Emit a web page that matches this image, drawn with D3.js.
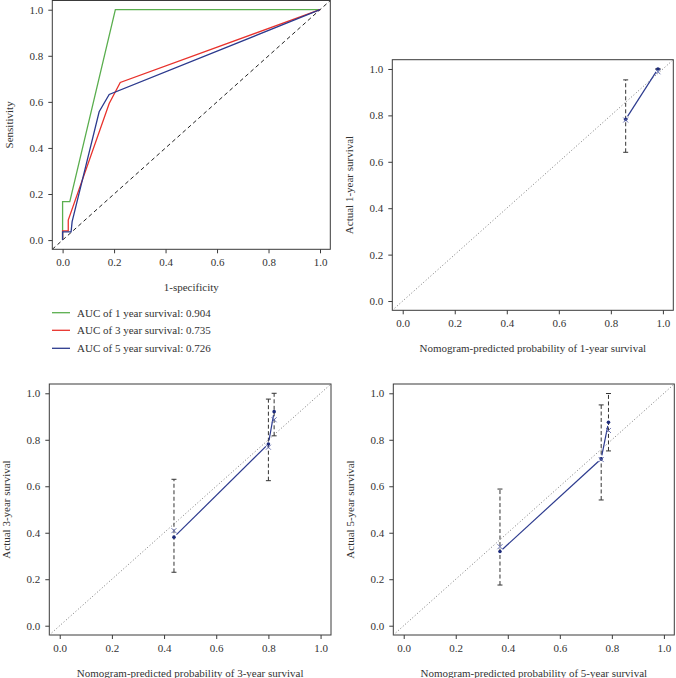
<!DOCTYPE html>
<html><head><meta charset="utf-8">
<script src="https://cdn.jsdelivr.net/npm/d3@7"></script>
<style>
body{margin:0;background:#fff;}
svg{display:block;font-family:"Liberation Serif","DejaVu Serif",serif;}
</style></head>
<body><svg id="chart" width="676" height="678"></svg>
<script>
// ---------- data ----------
const ticks = [0, 0.2, 0.4, 0.6, 0.8, 1.0];

// ROC curves (1-specificity, sensitivity)
const roc1Fpr = [0, 0, 0.028, 0.205, 1];
const roc1Tpr = [0, 0.167, 0.167, 1, 1];
const roc3Fpr = [0, 0, 0.022, 0.022, 0.181, 0.224, 1];
const roc3Tpr = [0, 0.04, 0.04, 0.087, 0.593, 0.684, 1];
const roc5Fpr = [0, 0, 0.033, 0.037, 0.142, 0.181, 1];
const roc5Tpr = [0, 0.036, 0.036, 0.08, 0.557, 0.632, 1];
const legendLabels = ["AUC of 1 year survival: 0.904", "AUC of 3 year survival: 0.735", "AUC of 5 year survival: 0.726"];

// Calibration: predicted, observed, bias-corrected, lower, upper
const cal1Pred = [0.857, 0.981];
const cal1Obs  = [0.783, 1.0];
const cal1Corr = [0.78, 0.988];
const cal1Lo   = [0.641, 1.0];
const cal1Hi   = [0.953, 1.0];

const cal3Pred = [0.438, 0.800, 0.822];
const cal3Obs  = [0.381, 0.782, 0.921];
const cal3Corr = [0.409, 0.768, 0.886];
const cal3Lo   = [0.230, 0.624, 0.817];
const cal3Hi   = [0.630, 0.975, 1.0];

const cal5Pred = [0.370, 0.759, 0.787];
const cal5Obs  = [0.319, 0.718, 0.875];
const cal5Corr = [0.340, 0.715, 0.840];
const cal5Lo   = [0.175, 0.541, 0.752];
const cal5Hi   = [0.588, 0.950, 0.999];

// ---------- drawing ----------
const svg = d3.select("#chart");
const FONT = 11;
const BOX = "#3a3a3a";

function panel(b, xTitle, yTitle) {
  const x = d3.scaleLinear().domain([-0.04, 1.04]).range([b.l, b.r]);
  const y = d3.scaleLinear().domain([-0.04, 1.04]).range([b.b, b.t]);
  const g = svg.append("g");
  const clipId = "clip" + Math.round(b.l) + "_" + Math.round(b.t);
  svg.append("clipPath").attr("id", clipId).append("rect")
    .attr("x", b.l).attr("y", b.t).attr("width", b.r - b.l).attr("height", b.b - b.t);
  const xa = g.append("g").attr("transform", `translate(0,${b.b})`)
    .call(d3.axisBottom(x).tickValues(ticks).tickFormat(d3.format(".1f")).tickSizeOuter(0).tickSize(4).tickPadding(5));
  const ya = g.append("g").attr("transform", `translate(${b.l},0)`)
    .call(d3.axisLeft(y).tickValues(ticks).tickFormat(d3.format(".1f")).tickSizeOuter(0).tickSize(4).tickPadding(5));
  [xa, ya].forEach(a => {
    a.select(".domain").remove();
    a.selectAll("line").attr("stroke", BOX);
    a.selectAll("text").attr("font-family", "Liberation Serif").attr("font-size", FONT).attr("fill", "#333");
  });
  g.append("text").attr("x", (b.l + b.r) / 2).attr("y", b.b + 38).attr("dy", "0.35em")
    .attr("text-anchor", "middle").attr("font-size", FONT).attr("fill", "#333").text(xTitle);
  const yc = (b.t + b.b) / 2, xc = b.l - 43.5;
  g.append("text").attr("transform", `translate(${xc},${yc}) rotate(-90)`).attr("dy", "0.35em")
    .attr("text-anchor", "middle").attr("font-size", FONT).attr("fill", "#333").text(yTitle);
  const inner = svg.append("g").attr("clip-path", `url(#${clipId})`);
  return {x, y, g, inner, b};
}

function frame(p) {
  p.g.append("rect").attr("x", p.b.l).attr("y", p.b.t).attr("width", p.b.r - p.b.l)
    .attr("height", p.b.b - p.b.t).attr("fill", "none").attr("stroke", BOX).attr("stroke-width", 1);
}

// ROC panel
const roc = panel({l: 52.3, r: 330.3, t: 0.5, b: 249.3}, "1-specificity", "Sensitivity");
roc.inner.append("line").attr("x1", roc.x(-0.04)).attr("y1", roc.y(-0.04))
  .attr("x2", roc.x(1.04)).attr("y2", roc.y(1.04))
  .attr("stroke", "#222").attr("stroke-width", 1).attr("stroke-dasharray", "4,3");
const rocSeries = [
  {fpr: roc1Fpr, tpr: roc1Tpr, color: "#5aae4e"},
  {fpr: roc3Fpr, tpr: roc3Tpr, color: "#e8322c"},
  {fpr: roc5Fpr, tpr: roc5Tpr, color: "#2c3a8e"}
];
const rocLine = d3.line().x(d => roc.x(d[0])).y(d => roc.y(d[1]));
rocSeries.forEach(s => {
  roc.inner.append("path").attr("d", rocLine(s.fpr.map((v, i) => [v, s.tpr[i]])))
    .attr("fill", "none").attr("stroke", s.color).attr("stroke-width", 1.3);
});
frame(roc);
// legend
const legY = [312.7, 330.3, 348.3];
rocSeries.forEach((s, i) => {
  svg.append("line").attr("x1", 52).attr("x2", 70).attr("y1", legY[i]).attr("y2", legY[i])
    .attr("stroke", s.color).attr("stroke-width", 1.3);
  svg.append("text").attr("x", 77).attr("y", legY[i]).attr("dy", "0.35em")
    .attr("font-size", FONT).attr("fill", "#333").text(legendLabels[i]);
});

// calibration panels
function calPanel(b, yr, pred, obs, corr, lo, hi) {
  const p = panel(b, `Nomogram-predicted probability of ${yr}-year survival`, `Actual ${yr}-year survival`);
  const {x, y, inner} = p;
  inner.append("line").attr("x1", x(-0.04)).attr("y1", y(-0.04)).attr("x2", x(1.04)).attr("y2", y(1.04))
    .attr("stroke", "#777").attr("stroke-width", 1).attr("stroke-dasharray", "1,2.2");
  // error bars
  pred.forEach((pv, i) => {
    inner.append("line").attr("x1", x(pv)).attr("x2", x(pv)).attr("y1", y(lo[i])).attr("y2", y(hi[i]))
      .attr("stroke", "#333").attr("stroke-width", 1).attr("stroke-dasharray", "4,2.5");
    [lo[i], hi[i]].forEach(v => {
      inner.append("line").attr("x1", x(pv) - 2.5).attr("x2", x(pv) + 2.5).attr("y1", y(v)).attr("y2", y(v))
        .attr("stroke", "#333").attr("stroke-width", 1);
    });
  });
  // line with gaps (type "b")
  const gap = 3.5;
  for (let i = 0; i < pred.length - 1; i++) {
    const x1 = x(pred[i]), y1 = y(obs[i]), x2 = x(pred[i + 1]), y2 = y(obs[i + 1]);
    const L = Math.hypot(x2 - x1, y2 - y1);
    const ux = (x2 - x1) / L, uy = (y2 - y1) / L;
    inner.append("line").attr("x1", x1 + ux * gap).attr("y1", y1 + uy * gap)
      .attr("x2", x2 - ux * gap).attr("y2", y2 - uy * gap)
      .attr("stroke", "#2c3a8e").attr("stroke-width", 1.2);
  }
  // observed dots
  pred.forEach((pv, i) => {
    inner.append("circle").attr("cx", x(pv)).attr("cy", y(obs[i])).attr("r", 1.8).attr("fill", "#1c2a7a");
  });
  // bias-corrected X marks
  pred.forEach((pv, i) => {
    const cx = x(pv), cy = y(corr[i]), s = 2.5;
    inner.append("path").attr("d", `M${cx - s},${cy - s}L${cx + s},${cy + s}M${cx - s},${cy + s}L${cx + s},${cy - s}`)
      .attr("stroke", "#5a64a8").attr("stroke-width", 0.9).attr("fill", "none");
  });
  frame(p);
}

calPanel({l: 392.3, r: 673.3, t: 59.7, b: 310.3}, 1, cal1Pred, cal1Obs, cal1Corr, cal1Lo, cal1Hi);
calPanel({l: 49.3, r: 331, t: 384, b: 635}, 3, cal3Pred, cal3Obs, cal3Corr, cal3Lo, cal3Hi);
calPanel({l: 393.3, r: 674.3, t: 384, b: 635}, 5, cal5Pred, cal5Obs, cal5Corr, cal5Lo, cal5Hi);
</script>
</body></html>
